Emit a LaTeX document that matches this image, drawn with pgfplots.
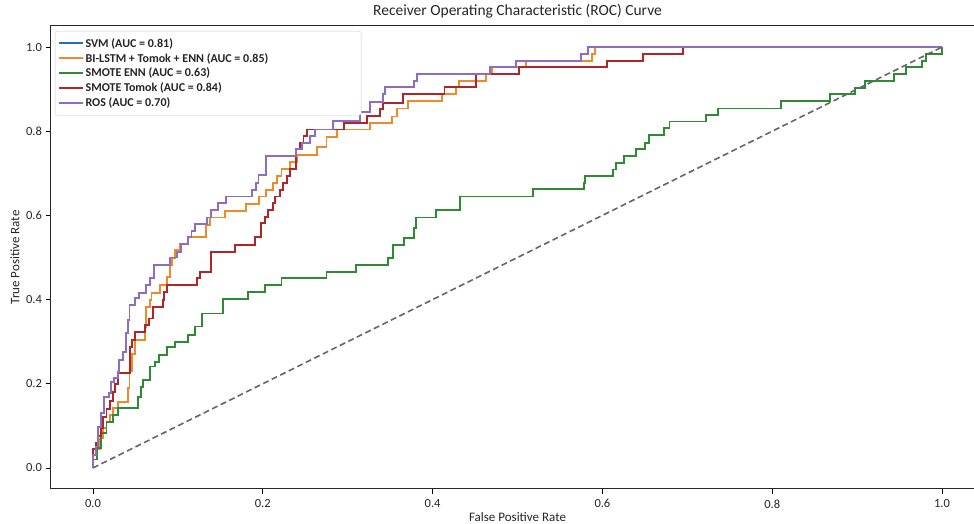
\documentclass[border=0pt]{standalone}
\usepackage{fontspec}
\setmainfont{Carlito}
\usepackage{pgfplots}
\usepackage{pgfplotstable}
\pgfplotsset{compat=1.18}

\definecolor{svmblue}{HTML}{2A6FB0}
\definecolor{lstmorange}{HTML}{EC8A2C}
\definecolor{ennGreen}{HTML}{2F8A34}
\definecolor{tomokred}{HTML}{B02528}
\definecolor{rospurple}{HTML}{8E6CC0}

% ROC corner points: x = FPR where the step up happens, y = TPR after it
\pgfplotstableread{
fpr tpr
0 0
0 0.03
0.003 0.045
0.008 0.07
0.012 0.095
0.016 0.11
0.02 0.126
0.024 0.142
0.03 0.157
0.041 0.19
0.043 0.23
0.046 0.27
0.049 0.304
0.061 0.335
0.062 0.383
0.067 0.399
0.069 0.415
0.079 0.435
0.087 0.454
0.091 0.482
0.093 0.498
0.097 0.518
0.103 0.532
0.112 0.548
0.133 0.577
0.138 0.595
0.155 0.611
0.180 0.627
0.196 0.645
0.204 0.660
0.212 0.676
0.217 0.694
0.222 0.710
0.232 0.726
0.240 0.743
0.264 0.763
0.275 0.787
0.287 0.804
0.326 0.819
0.352 0.835
0.358 0.854
0.371 0.872
0.411 0.888
0.428 0.904
0.431 0.920
0.463 0.936
0.470 0.952
0.510 0.967
0.588 0.983
0.591 1.0
1 1
}\lstmdata

\pgfplotstableread{
fpr tpr
0 0
0 0.02
0.005 0.047
0.010 0.082
0.016 0.110
0.024 0.126
0.030 0.142
0.053 0.169
0.057 0.193
0.059 0.209
0.067 0.241
0.073 0.252
0.078 0.268
0.087 0.288
0.097 0.300
0.112 0.316
0.120 0.336
0.128 0.367
0.153 0.401
0.183 0.417
0.203 0.435
0.222 0.451
0.275 0.466
0.310 0.482
0.348 0.498
0.353 0.530
0.366 0.547
0.378 0.571
0.380 0.595
0.404 0.613
0.432 0.645
0.518 0.662
0.578 0.678
0.580 0.694
0.612 0.709
0.616 0.725
0.625 0.741
0.640 0.757
0.650 0.773
0.655 0.791
0.672 0.807
0.679 0.823
0.722 0.838
0.736 0.854
0.810 0.872
0.868 0.888
0.898 0.903
0.909 0.919
0.943 0.936
0.958 0.952
0.976 0.967
0.981 0.983
1.0 1.0
}\enndata

\pgfplotstableread{
fpr tpr
0 0
0 0.045
0.004 0.06
0.006 0.075
0.009 0.095
0.012 0.12
0.016 0.14
0.020 0.16
0.024 0.18
0.026 0.20
0.030 0.225
0.044 0.288
0.046 0.304
0.050 0.324
0.061 0.340
0.066 0.355
0.071 0.383
0.082 0.400
0.084 0.419
0.087 0.435
0.123 0.451
0.126 0.466
0.139 0.514
0.167 0.530
0.191 0.548
0.198 0.581
0.203 0.597
0.206 0.613
0.212 0.629
0.214 0.645
0.220 0.660
0.224 0.676
0.228 0.694
0.232 0.710
0.239 0.757
0.244 0.773
0.248 0.789
0.252 0.804
0.296 0.820
0.323 0.836
0.338 0.852
0.342 0.868
0.365 0.888
0.414 0.904
0.451 0.936
0.502 0.952
0.605 0.967
0.648 0.983
0.695 1.0
1 1
}\tomokdata

\pgfplotstableread{
fpr tpr
0 0
0 0.03
0.004 0.051
0.006 0.098
0.010 0.130
0.013 0.169
0.019 0.178
0.021 0.205
0.025 0.214
0.029 0.229
0.031 0.257
0.035 0.276
0.039 0.320
0.041 0.352
0.043 0.387
0.050 0.403
0.054 0.416
0.062 0.435
0.067 0.451
0.072 0.482
0.091 0.500
0.099 0.514
0.104 0.532
0.112 0.549
0.116 0.564
0.120 0.580
0.134 0.595
0.139 0.613
0.147 0.629
0.157 0.645
0.187 0.660
0.192 0.678
0.195 0.696
0.204 0.741
0.239 0.757
0.246 0.771
0.256 0.789
0.262 0.804
0.283 0.825
0.314 0.846
0.326 0.870
0.342 0.888
0.344 0.904
0.378 0.920
0.382 0.936
0.468 0.952
0.498 0.967
0.575 0.983
0.583 1.0
1 1
}\rosdata

\begin{document}
\begin{tikzpicture}
\begin{axis}[
    at={(0pt,0pt)}, anchor=south west,
    scale only axis, width=934pt, height=463pt,
    xmin=-0.05, xmax=1.05, ymin=-0.05, ymax=1.05,
    xtick={0,0.2,0.4,0.6,0.8,1}, ytick={0,0.2,0.4,0.6,0.8,1},
    xtick pos=bottom, ytick pos=left,
    tick align=outside, major tick length=5pt,
    tick style={black, line width=0.8pt},
    axis line style={black!85, line width=1pt},
    /pgf/number format/.cd, fixed, fixed zerofill, precision=1, assume math mode=true,
    /pgfplots/.cd,
    ticklabel style={font=\fontsize{12.5}{14}\selectfont, black!85},
    xticklabel style={yshift=-2pt},
    title={Receiver Operating Characteristic (ROC) Curve},
    every axis title/.style={at={(axis description cs:0.5,1)}, anchor=base,
        yshift=10pt, font=\fontsize{15.5}{18}\selectfont, black!85},
    xlabel={False Positive Rate},
    ylabel={True Positive Rate},
    xlabel style={at={(axis description cs:0.5,-0.0605)}, anchor=center,
        font=\fontsize{13}{15}\selectfont, black!85},
    ylabel style={at={(axis description cs:-0.038,0.5)}, anchor=center,
        font=\fontsize{13}{15}\selectfont, black!85},
    legend style={at={(0,1)}, anchor=north west, xshift=4.5pt, yshift=-5pt,
        draw=black!20, rounded corners=2pt, fill=white,
        font=\bfseries\fontsize{12}{13}\selectfont,
        inner xsep=3pt, inner ysep=5.5pt, row sep=1.5pt,
        nodes={inner sep=1.5pt, text=black!85}},
    legend cell align=left,
    legend image code/.code={\draw[#1] (0pt,0pt) -- (24pt,0pt);},
    every axis plot/.append style={line width=1.9pt},
]
\addlegendimage{svmblue, line width=1.9pt}
\addlegendentry{SVM (AUC = 0.81)}
\addplot[lstmorange, const plot mark left] table[x=fpr, y=tpr] {\lstmdata};
\addlegendentry{\makebox[271pt][l]{BI-LSTM + Tomok + ENN (AUC = 0.85)}}
\addplot[ennGreen, const plot mark left] table[x=fpr, y=tpr] {\enndata};
\addlegendentry{SMOTE ENN (AUC = 0.63)}
\addplot[tomokred, const plot mark left] table[x=fpr, y=tpr] {\tomokdata};
\addlegendentry{SMOTE Tomok (AUC = 0.84)}
\addplot[rospurple, const plot mark left] table[x=fpr, y=tpr] {\rosdata};
\addlegendentry{ROS (AUC = 0.70)}
\addplot[black!60, line width=1.6pt, dash pattern=on 6pt off 3.5pt, forget plot] coordinates {(0,0) (1,1)};
\end{axis}
\pgfresetboundingbox
\path[use as bounding box] (-50.5pt,-35pt) rectangle (923.5pt,489pt);
\end{tikzpicture}
\end{document}
